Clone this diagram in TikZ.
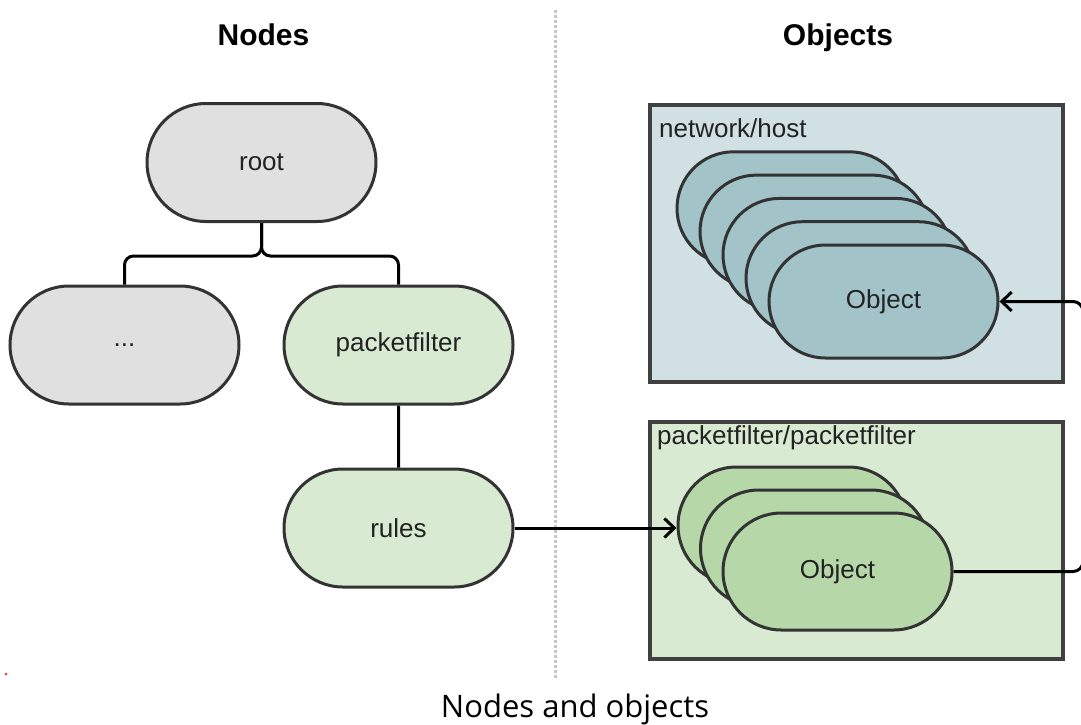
\documentclass[tikz,border=0pt]{standalone}
\usepackage{fontspec}
\setmainfont{Liberation Sans}
\newfontfamily\captionfont{Open Sans}
\usetikzlibrary{arrows.meta, positioning, shapes.misc}
\definecolor{nodegray}{HTML}{E0E0E0}
\definecolor{leafgreen}{HTML}{D9EAD3}
\definecolor{hostblue}{HTML}{D0E0E3}
\definecolor{objblue}{HTML}{A2C4C9}
\definecolor{objgreen}{HTML}{B6D7A8}
\definecolor{linegray}{HTML}{333333}
\definecolor{boxgray}{HTML}{404040}
\definecolor{textgray}{HTML}{222222}
\tikzset{
	x = 1pt,
	y = -1pt,
	node distance = 42pt,
	>={Straight Barb[length=10pt,width=19pt]},
	font = \fontsize{26}{30}\selectfont,
	pill/.style={
		draw=linegray,
		line width=3pt,
		rounded rectangle,
		minimum width=229pt,
		minimum height=118pt,
		inner sep=0pt,
		text=textgray
	},
	group/.style={
		draw=boxgray,
		line width=4pt,
		anchor=north west,
		minimum width=413pt
	},
	grouplabel/.style={
		anchor=base west,
		inner sep=0pt,
		text=textgray
	},
	title/.style={
		anchor=base,
		font=\fontsize{30}{36}\selectfont\bfseries
	},
	link/.style={
		line width=3pt
	},
	edge/.style={
		->,
		line width=3pt
	}
}

\begin{document}
\begin{tikzpicture}
		\useasboundingbox (0,0) rectangle (1081,724);

		% headings and divider
		\node[title] (nodes-title) at (263.5,45) {Nodes};
		\node[title] (objects-title) at (838,45) {Objects};
		\draw[black!22, line width=2.5pt, dash pattern=on 2.5pt off 2.5pt] (555.5,10) -- (555.5,678);

		% node tree
		\node[pill, fill=nodegray] at (261.5,162.5) (root) {root};
		\node[pill, fill=nodegray] at (124.5,345) (dots) {...};
		\node[pill, fill=leafgreen, right=42pt of dots] (packetfilter) {packetfilter};
		\node[pill, fill=leafgreen, below=62pt of packetfilter] (rules) {rules};

		\draw[link, rounded corners=9pt] (root.south) -- ++(0,33) -| (dots.north);
		\draw[link, rounded corners=9pt] (root.south) -- ++(0,33) -| (packetfilter.north);
		\draw[link] (packetfilter) -- (rules);

		% object groups
		\node[group, fill=hostblue, minimum height=277pt] at (648,103) (hostbox) {};
		\node[grouplabel] at (659,137) (hostlabel) {network/host};
		\foreach \k in {4,3,2,1} {
			\node[pill, fill=objblue, minimum height=113pt] (host-\k) at ({883.5-23*\k},{301.5-23.3*\k}) {};
		}
		\node[pill, fill=objblue, minimum height=113pt] (host-0) at (883.5,301.5) {Object};

		\node[group, fill=leafgreen, minimum height=237pt] at (648,420) (pfbox) {};
		\node[grouplabel] at (657,444) (pflabel) {packetfilter/packetfilter};
		\foreach \k in {2,1} {
			\node[pill, fill=objgreen, minimum height=117pt] (pf-\k) at ({837.5-22.5*\k},{571.5-23*\k}) {};
		}
		\node[pill, fill=objgreen, minimum height=117pt] (pf-0) at (837.5,571.5) {Object};

		% references
		\coordinate (rt) at (1083,0);
		\draw[edge] (rules.east) -- (rules.east -| pf-2.west);
		\draw[edge, rounded corners=10pt] (pf-0.east) -- (pf-0.east -| rt) |- (host-0.east);

		\fill[red!80] (6,674) circle (1.5pt);
		\node[anchor=base, font=\captionfont\fontsize{31}{36}\selectfont] (caption) at (575,717) {Nodes and objects};
	\end{tikzpicture}
\end{document}
